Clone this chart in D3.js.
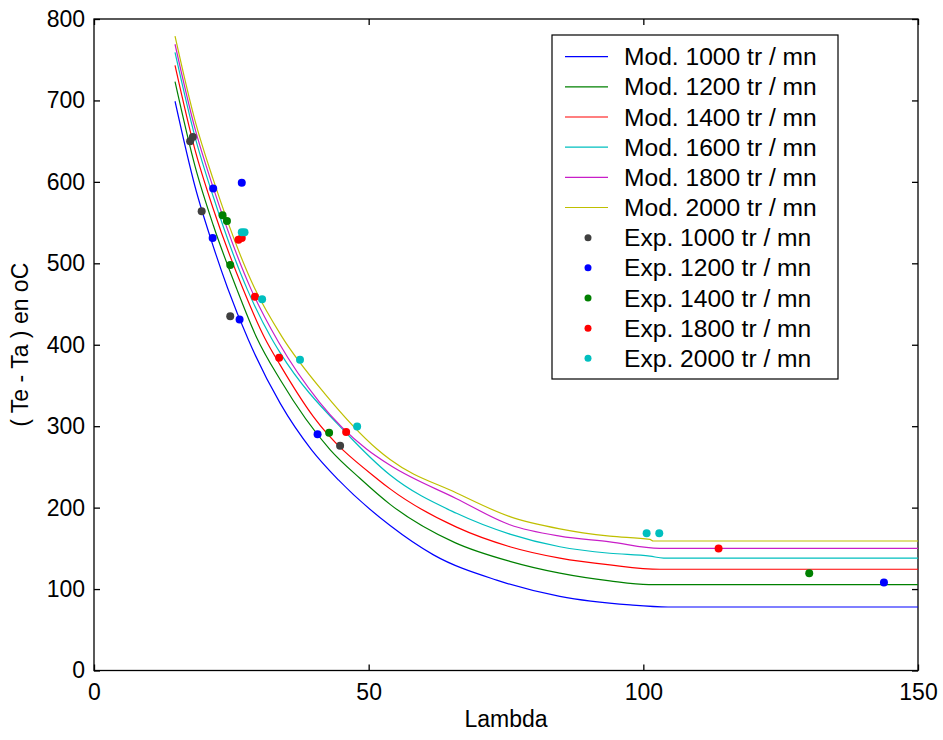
<!DOCTYPE html>
<html>
<head>
<meta charset="utf-8">
<script src="https://cdn.jsdelivr.net/npm/d3@7"></script>
<style>
  html, body { margin: 0; padding: 0; background: #fff; }
  svg { display: block; font-family: Arial, "Liberation Sans", sans-serif; }
</style>
</head>
<body>
<svg id="chart" width="943" height="740"></svg>
<script>
// ---------- DATA ----------
const xTicks = [0, 50, 100, 150];
const yTicks = [0, 100, 200, 300, 400, 500, 600, 700, 800];

const modelLabels = ["Mod. 1000 tr / mn", "Mod. 1200 tr / mn", "Mod. 1400 tr / mn",
                     "Mod. 1600 tr / mn", "Mod. 1800 tr / mn", "Mod. 2000 tr / mn"];
const modelColors = ["#0000ff", "#008000", "#ff0000", "#00bfbf", "#c81ec8", "#bfbf00"];

// [lambda, Te - Ta]
const mod1000 = [[14.75,699],[18.4,594],[21.7,521],[24.3,470],[28.1,406],[33.9,328],[39.6,271],[44.5,234],[53.9,178],[61.8,142],[73.3,111],[84.8,91],[97.6,80.5],[104.5,78],[150,78]];
const mod1200 = [[14.75,723],[18.4,619],[21.7,547],[25.9,470],[29.6,409],[33.9,357],[43,271],[48.4,236],[53.9,204],[65.7,157],[75.7,134],[84.8,119.5],[93.9,110],[101,105.5],[150,105.5]];
const mod1400 = [[14.75,743],[18.4,639],[21.7,567],[27.1,469],[31.1,408],[33.9,375],[39.9,312],[51.8,234],[53.9,223],[66,176],[75.7,152],[84.8,138],[93.9,129.6],[103,124.3],[150,124.3]];
const mod1600 = [[14.75,759],[18.4,655],[21.7,582],[27.9,468],[32.3,408],[33.9,390],[46,291],[53.9,240],[66,193],[75.7,167.5],[84.8,152],[93.9,144],[101.2,140.5],[103.7,138],[150,138]];
const mod1800 = [[14.75,769],[18.4,665],[21.7,593],[28.6,468],[33.6,403],[41,330],[49.6,272],[53.9,252],[66,211],[75.7,179],[84.8,165],[93.9,158],[103,150],[150,150]];
const mod2000 = [[14.75,779],[18.4,675],[21.7,603],[29.2,470],[34.2,410],[42,340],[51.5,272],[53.9,259],[66,218],[75.7,189],[84.8,174],[93.9,165],[101.2,161],[101.8,159],[150,159]];
const models = [mod1000, mod1200, mod1400, mod1600, mod1800, mod2000];

const expLabels = ["Exp. 1000 tr / mn", "Exp. 1200 tr / mn", "Exp. 1400 tr / mn",
                   "Exp. 1800 tr / mn", "Exp. 2000 tr / mn"];
const expColors = ["#404040", "#0000ff", "#008000", "#ff0000", "#00bfbf"];

const exp1000 = [[17.5,650],[18.0,655],[19.6,564],[24.8,435],[44.8,276]];
const exp1200 = [[21.7,592],[26.9,599],[21.6,531],[26.5,431],[40.7,290],[143.8,108]];
const exp1400 = [[23.4,559],[24.2,552],[24.8,498],[42.8,292],[130.2,119.4]];
const exp1800 = [[26.3,529],[26.9,531],[29.3,459],[33.7,384],[45.9,293],[113.7,149.7]];
const exp2000 = [[26.9,538],[27.4,538],[30.6,456],[37.5,381.5],[47.9,299.6],[100.6,168.6],[102.9,168.6]];
const exps = [exp1000, exp1200, exp1400, exp1800, exp2000];

// ---------- LAYOUT ----------
const svg = d3.select("#chart");
const X0 = 94, X1 = 918, YTOP = 19, YBOT = 670.5;
const x = d3.scaleLinear().domain([0, 150]).range([X0, X1]);
const y = d3.scaleLinear().domain([0, 800]).range([YBOT, YTOP]);

// plot box
svg.append("rect").attr("x", X0).attr("y", YTOP)
  .attr("width", X1 - X0).attr("height", YBOT - YTOP)
  .attr("fill", "#fff").attr("stroke", "#000").attr("stroke-width", 1.3);

// axes
function styleAxis(g, showLabels, fontSize) {
  g.select(".domain").remove();
  g.selectAll(".tick line").attr("stroke", "#000").attr("stroke-width", 1.3);
  g.selectAll(".tick text").attr("fill", "#000")
    .style("font-size", fontSize + "px")
    .style("font-family", "Arial, 'Liberation Sans', sans-serif")
    .attr("opacity", showLabels ? 1 : 0);
}
svg.append("g").attr("transform", `translate(0,${YBOT})`)
  .call(d3.axisBottom(x).tickValues(xTicks).tickSize(-6).tickPadding(13).tickFormat(d3.format("d")))
  .call(g => styleAxis(g, true, 23));
svg.append("g").attr("transform", `translate(0,${YTOP})`)
  .call(d3.axisTop(x).tickValues(xTicks).tickSize(-6))
  .call(g => styleAxis(g, false, 23));
svg.append("g").attr("transform", `translate(${X0},0)`)
  .call(d3.axisLeft(y).tickValues(yTicks).tickSize(-6).tickPadding(9).tickFormat(d3.format("d")))
  .call(g => styleAxis(g, true, 23));
svg.append("g").attr("transform", `translate(${X1},0)`)
  .call(d3.axisRight(y).tickValues(yTicks).tickSize(-6))
  .call(g => styleAxis(g, false, 23));

// model curves
const line = d3.line().x(d => x(d[0])).y(d => y(d[1])).curve(d3.curveMonotoneX);
models.forEach((m, i) => {
  svg.append("path").datum(m).attr("d", line)
    .attr("fill", "none").attr("stroke", modelColors[i]).attr("stroke-width", 1.2);
});

// experimental points
exps.forEach((e, i) => {
  svg.append("g").selectAll("circle").data(e).join("circle")
    .attr("cx", d => x(d[0])).attr("cy", d => y(d[1])).attr("r", 4)
    .attr("fill", expColors[i]);
});

// axis titles
svg.append("text").attr("x", (X0 + X1) / 2).attr("y", 727)
  .attr("text-anchor", "middle").style("font-size", "23px").text("Lambda");
svg.append("text").attr("transform", `translate(28,${(YTOP + YBOT) / 2}) rotate(-90)`)
  .attr("text-anchor", "middle").style("font-size", "23px").text("( Te - Ta ) en oC");

// legend
const LX = 552, LY = 35, LW = 286, LH = 344;
const lg = svg.append("g");
lg.append("rect").attr("x", LX).attr("y", LY).attr("width", LW).attr("height", LH)
  .attr("fill", "#fff").attr("stroke", "#000").attr("stroke-width", 1.2);
const rowY = i => 56.7 + i * 30.16;
modelLabels.forEach((lab, i) => {
  lg.append("line").attr("x1", 565).attr("x2", 608).attr("y1", rowY(i)).attr("y2", rowY(i))
    .attr("stroke", modelColors[i]).attr("stroke-width", 1.2);
  lg.append("text").attr("x", 624).attr("y", rowY(i)).attr("dy", "0.35em")
    .style("font-size", "24.6px").text(lab);
});
expLabels.forEach((lab, j) => {
  const i = j + modelLabels.length;
  lg.append("circle").attr("cx", 588).attr("cy", rowY(i)).attr("r", 3.5).attr("fill", expColors[j]);
  lg.append("text").attr("x", 624).attr("y", rowY(i)).attr("dy", "0.35em")
    .style("font-size", "24.6px").text(lab);
});
</script>
</body>
</html>
